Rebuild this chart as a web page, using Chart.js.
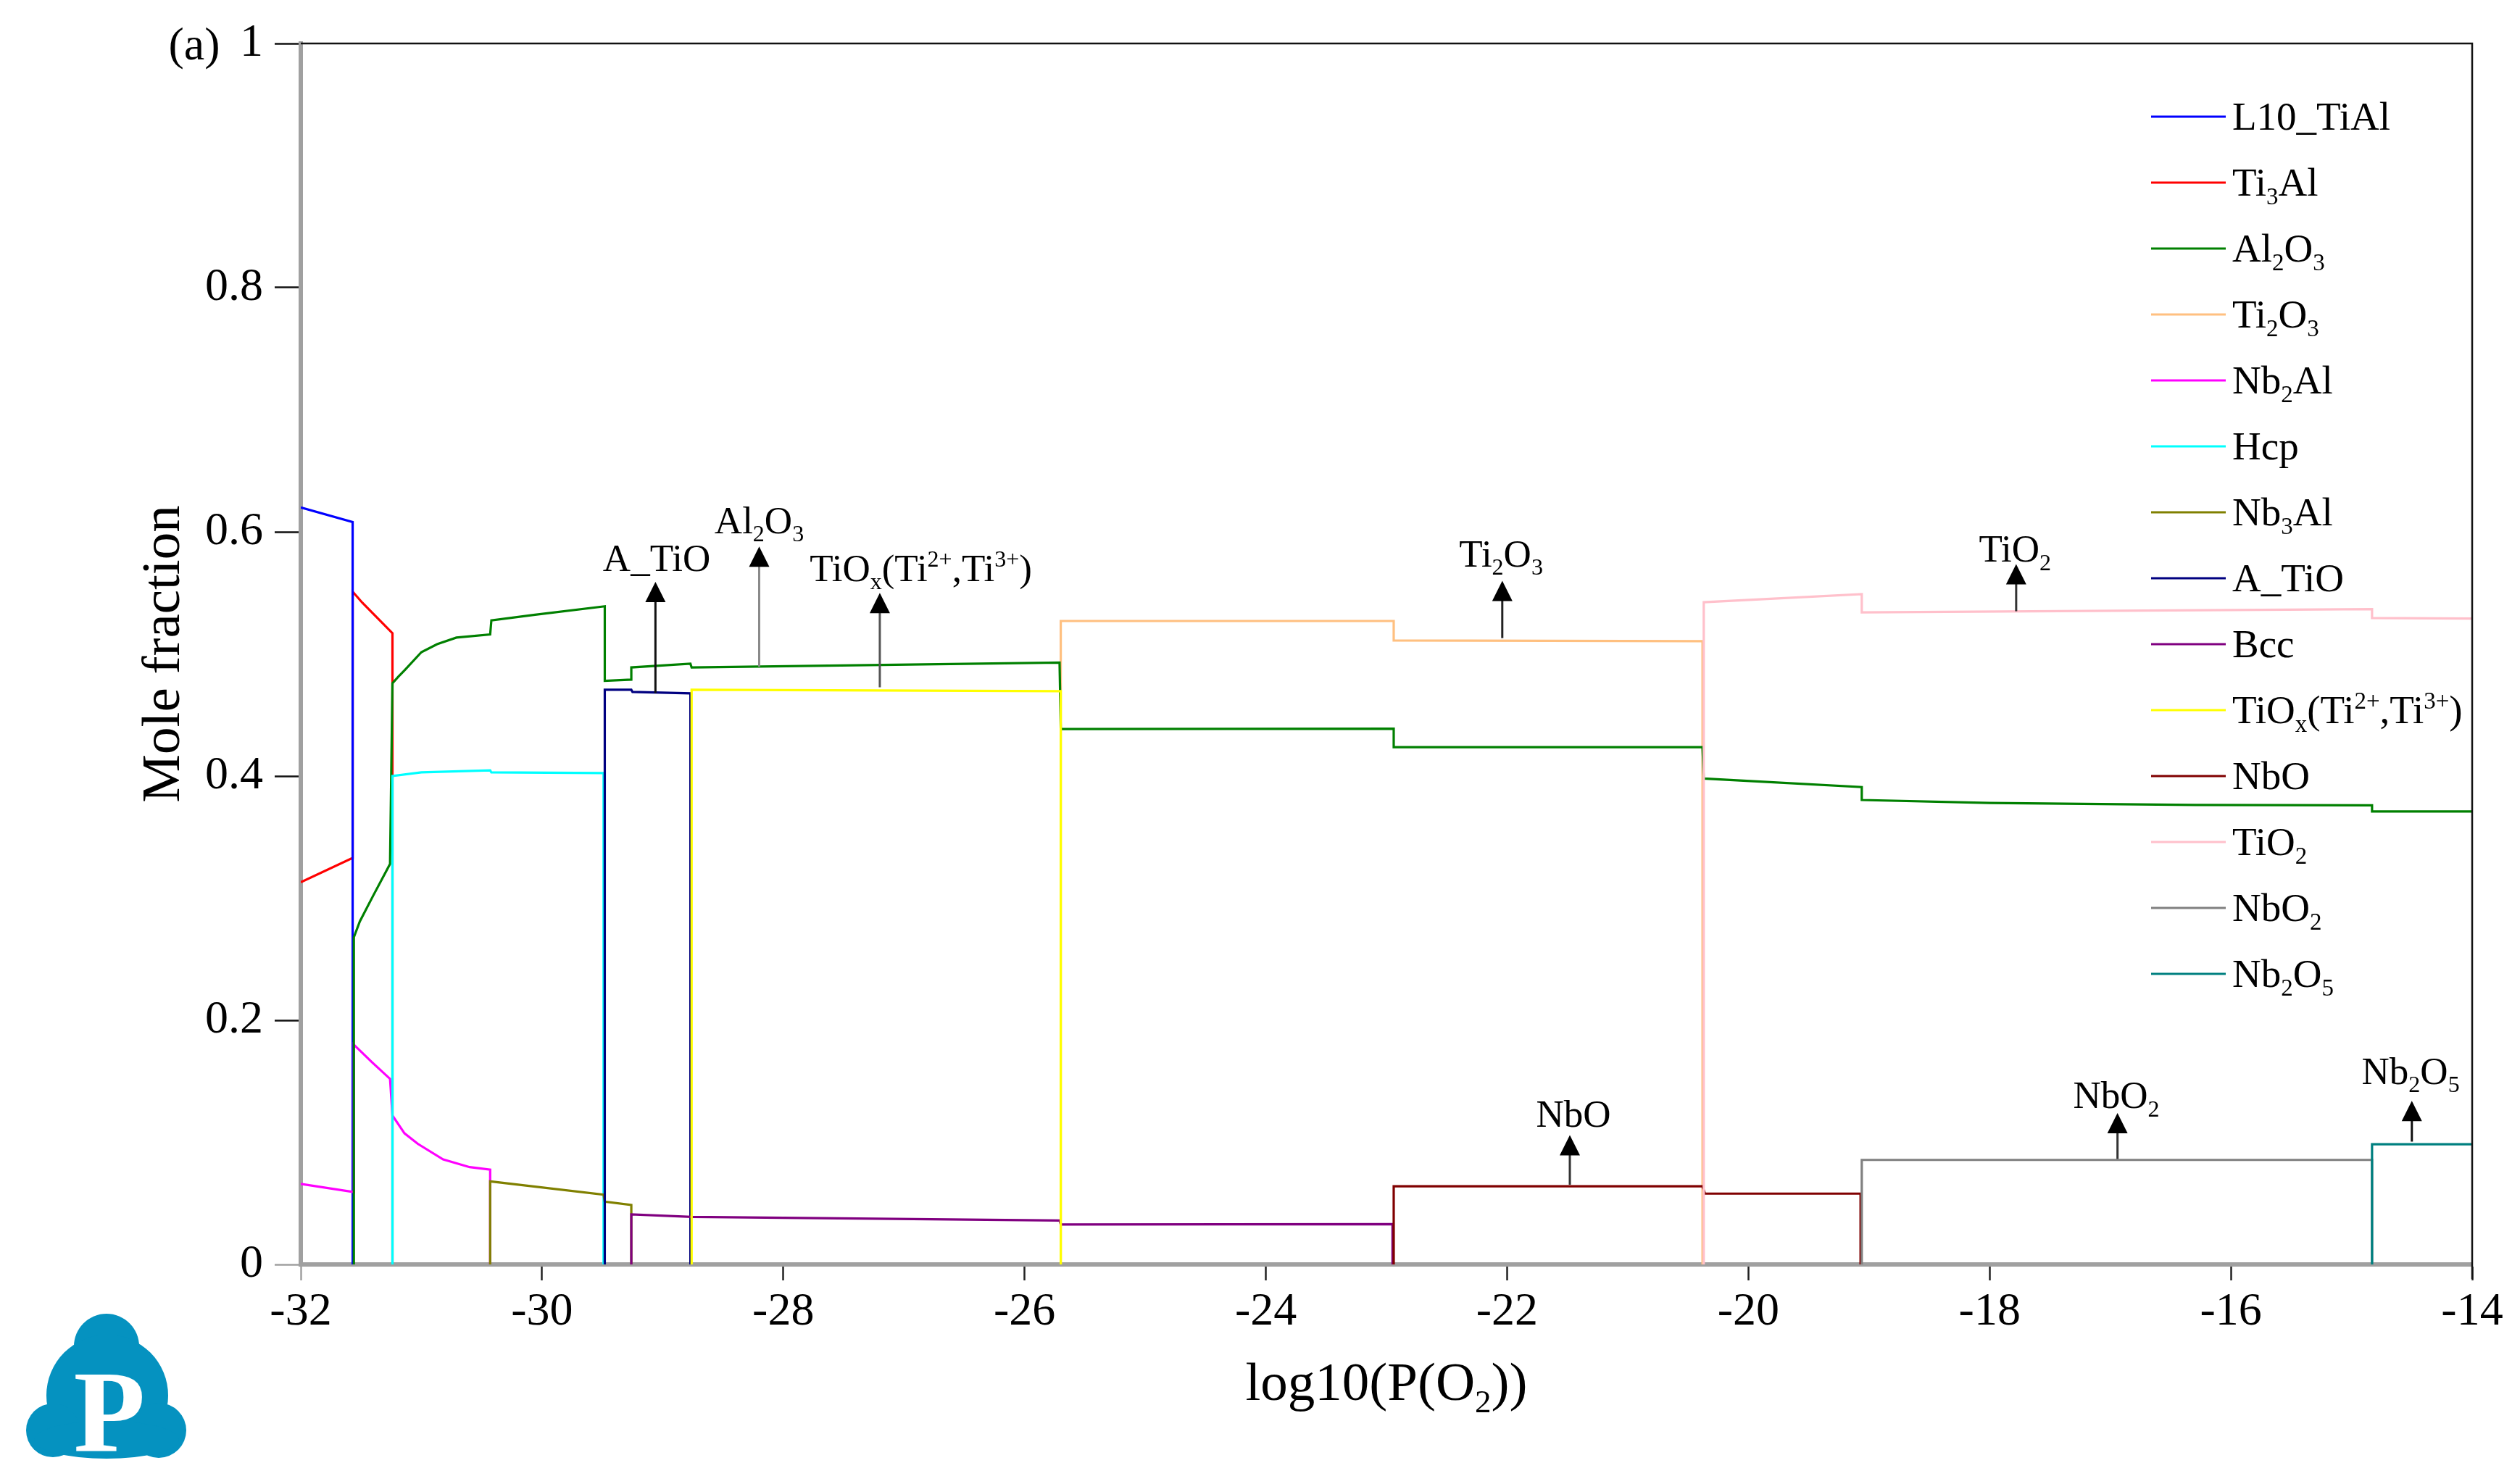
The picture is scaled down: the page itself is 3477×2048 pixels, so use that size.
<!DOCTYPE html>
<html lang="en">
<head>
<meta charset="UTF-8">
<title>Phase fractions vs log10(P(O2))</title>
<script src="https://cdn.jsdelivr.net/npm/chart.js"></script>
<style>
    html, body { margin: 0; padding: 0; background: #ffffff; }
    .wrap { position: relative; width: 3477px; height: 2048px; }
    .logo { position: absolute; left: 0; top: 1780px; width: 300px; height: 268px; }
</style>
</head>
<body>
<div class="wrap">
    <canvas id="phaseChart"></canvas>
    <svg class="logo" viewBox="0 0 300 268">
        <g fill="#0592c0">
            <circle cx="147" cy="78" r="45"/>
            <circle cx="148" cy="146" r="84"/>
            <circle cx="73" cy="194" r="37"/>
            <circle cx="219" cy="194" r="38"/>
            <ellipse cx="147" cy="207" rx="100" ry="26"/>
        </g>
        <text x="151" y="222" text-anchor="middle" fill="#fff"
              font-family="Liberation Serif" font-weight="bold" font-size="162">P</text>
    </svg>
</div>

<script>
    // phase names (legend order); _{..} = subscript, ^{..} = superscript
    const phaseNames = ['L10_TiAl', 'Ti_{3}Al', 'Al_{2}O_{3}', 'Ti_{2}O_{3}', 'Nb_{2}Al', 'Hcp', 'Nb_{3}Al',
        'A_TiO', 'Bcc', 'TiO_{x}(Ti^{2+},Ti^{3+})', 'NbO', 'TiO_{2}', 'NbO_{2}', 'Nb_{2}O_{5}'];
    const phaseColors = ['#0000ff', '#ff0000', '#008000', '#ffc080', '#ff00ff', '#00ffff', '#808000',
        '#000080', '#800080', '#ffff00', '#800000', '#ffc0cb', '#808080', '#008080'];
    // drawing order (smaller = drawn later, on top)
    const phaseOrder = [-1.5, -1, -4.5, -3, -4, -5, -6, -7, -8, -9, -10, -11, -12, -13];

    // [log10(P(O2)), mole fraction]
    const L10_TiAl = [[-32, 0.620], [-31.57, 0.608], [-31.57, 0]];
    const Ti3Al = [[-32, 0.313], [-31.57, 0.333], [-31.57, 0.551], [-31.49, 0.542], [-31.40, 0.533],
        [-31.24, 0.517], [-31.24, 0]];
    const Al2O3 = [[-31.56, 0], [-31.56, 0.268], [-31.51, 0.281], [-31.40, 0.302], [-31.26, 0.328],
        [-31.24, 0.476], [-31.19, 0.4815], [-31.14, 0.4866], [-31.00, 0.5015], [-30.87, 0.508],
        [-30.71, 0.5134], [-30.43, 0.516], [-30.42, 0.5275], [-30.07, 0.532], [-29.48, 0.539],
        [-29.48, 0.478], [-29.26, 0.479], [-29.26, 0.489], [-28.77, 0.492], [-28.76, 0.489],
        [-25.71, 0.493], [-25.70, 0.4385], [-22.94, 0.4388], [-22.94, 0.4237], [-20.38, 0.4237],
        [-20.37, 0.398], [-19.06, 0.391], [-19.06, 0.3804], [-18.0, 0.378], [-16.3, 0.3763],
        [-14.83, 0.376], [-14.83, 0.371], [-14, 0.371]];
    const Ti2O3 = [[-25.70, 0], [-25.70, 0.527], [-22.94, 0.527], [-22.94, 0.511], [-20.38, 0.5105],
        [-20.38, 0]];
    const Nb2Al = [[-32, 0.066], [-31.56, 0.0593], [-31.56, 0.180], [-31.41, 0.1657], [-31.26, 0.152],
        [-31.24, 0.122], [-31.14, 0.1074], [-31.03, 0.0988], [-30.82, 0.086], [-30.60, 0.0797],
        [-30.43, 0.0777], [-30.43, 0]];
    const Hcp = [[-31.24, 0], [-31.24, 0.400], [-31.00, 0.403], [-30.43, 0.4047], [-30.42, 0.403],
        [-29.49, 0.4025], [-29.49, 0]];
    const Nb3Al = [[-30.43, 0], [-30.43, 0.068], [-29.49, 0.0572], [-29.48, 0.0515], [-29.26, 0.0487],
        [-29.26, 0]];
    const A_TiO = [[-29.48, 0], [-29.48, 0.4707], [-29.26, 0.4707], [-29.25, 0.4689], [-28.77, 0.4677],
        [-28.77, 0]];
    const Bcc = [[-29.26, 0], [-29.26, 0.041], [-28.76, 0.039], [-25.71, 0.036], [-25.70, 0.0327],
        [-22.95, 0.033], [-22.95, 0]];
    const TiOx = [[-28.76, 0], [-28.76, 0.4707], [-25.70, 0.4695], [-25.70, 0]];
    const NbO = [[-22.94, 0], [-22.94, 0.064], [-20.38, 0.064], [-20.36, 0.058], [-19.07, 0.058],
        [-19.07, 0]];
    const TiO2 = [[-20.37, 0], [-20.37, 0.5424], [-19.06, 0.549], [-19.06, 0.534], [-14.83, 0.5367],
        [-14.83, 0.5294], [-14, 0.529]];
    const NbO2 = [[-19.06, 0], [-19.06, 0.0856], [-14.83, 0.0856], [-14.83, 0]];
    const Nb2O5 = [[-14.83, 0], [-14.83, 0.0985], [-14, 0.0985]];

    const phaseData = [L10_TiAl, Ti3Al, Al2O3, Ti2O3, Nb2Al, Hcp, Nb3Al, A_TiO, Bcc, TiOx, NbO, TiO2, NbO2, Nb2O5];

    // axis ranges / ticks
    const xMin = -32, xMax = -14, xStep = 2;
    const yMin = 0, yMax = 1, yStep = 0.2;

    // arrow annotations
    const annText = ['A_TiO', 'Al_{2}O_{3}', 'TiO_{x}(Ti^{2+},Ti^{3+})', 'Ti_{2}O_{3}', 'NbO', 'TiO_{2}', 'NbO_{2}', 'Nb_{2}O_{5}'];
    const annX = [-29.06, -28.20, -27.20, -22.04, -21.48, -17.78, -16.94, -14.50];
    const annFrom = [0.468, 0.4896, 0.4727, 0.513, 0.0653, 0.535, 0.0864, 0.1006];
    const annTo = [0.559, 0.588, 0.550, 0.560, 0.106, 0.5736, 0.124, 0.134];
    const annTextX = [-29.05, -28.20, -26.86, -22.05, -21.45, -17.79, -16.95, -14.51];
    const annTextY = [0.578, 0.609, 0.570, 0.5817, 0.123, 0.5857, 0.138, 0.158];
    const annShaft = ['#111', '#8a8a8a', '#555', '#222', '#333', '#333', '#333', '#111'];

    const SERIF = '"Liberation Serif", "Times New Roman", serif';

    // draws text with _{sub} and ^{sup} parts, y = baseline
    function drawRich(ctx, text, x, y, size, align) {
        const parts = [];
        let i = 0;
        const isMark = k => (text[k] === '_' || text[k] === '^') && text[k + 1] === '{';
        while (i < text.length) {
            if (isMark(i)) {
                const end = text.indexOf('}', i);
                parts.push({ t: text.slice(i + 2, end), k: text[i] });
                i = end + 1;
            } else {
                let j = i;
                while (j < text.length && !isMark(j)) j++;
                parts.push({ t: text.slice(i, j), k: '' });
                i = j;
            }
        }
        const fontFor = k => (k ? Math.round(size * 0.6) : size) + 'px ' + SERIF;
        let w = 0;
        parts.forEach(p => { ctx.font = fontFor(p.k); p.w = ctx.measureText(p.t).width; w += p.w; });
        let cx = align === 'center' ? x - w / 2 : (align === 'right' ? x - w : x);
        ctx.textAlign = 'left';
        ctx.textBaseline = 'alphabetic';
        parts.forEach(p => {
            ctx.font = fontFor(p.k);
            const dy = p.k === '_' ? size * 0.22 : (p.k === '^' ? -size * 0.36 : 0);
            ctx.fillText(p.t, cx, y + dy);
            cx += p.w;
        });
        return w;
    }

    const extrasPlugin = {
        id: 'extras',
        afterDraw(chart) {
            const ctx = chart.ctx;
            const xs = chart.scales.x, ys = chart.scales.y;
            const a = chart.chartArea;
            ctx.save();

            // top and right frame
            ctx.strokeStyle = '#111';
            ctx.lineWidth = 2.5;
            ctx.beginPath();
            ctx.moveTo(a.left, a.top);
            ctx.lineTo(a.right, a.top);
            ctx.lineTo(a.right, a.bottom + 20);
            ctx.stroke();

            // arrows + labels
            annX.forEach((v, i) => {
                const px = xs.getPixelForValue(v);
                const y0 = ys.getPixelForValue(annFrom[i]);
                const y1 = ys.getPixelForValue(annTo[i]);
                ctx.strokeStyle = annShaft[i];
                ctx.lineWidth = 3;
                ctx.beginPath();
                ctx.moveTo(px, y0);
                ctx.lineTo(px, y1 + 26);
                ctx.stroke();
                ctx.fillStyle = '#000';
                ctx.beginPath();
                ctx.moveTo(px, y1);
                ctx.lineTo(px - 14, y1 + 28);
                ctx.lineTo(px + 14, y1 + 28);
                ctx.closePath();
                ctx.fill();
                drawRich(ctx, annText[i], xs.getPixelForValue(annTextX[i]),
                    ys.getPixelForValue(annTextY[i]) + 17, 53, 'center');
            });

            // legend
            const lx0 = 2968, lx1 = 3071, ly0 = 161, dy = 91;
            phaseNames.forEach((name, i) => {
                const y = ly0 + i * dy;
                ctx.strokeStyle = phaseColors[i];
                ctx.lineWidth = 3;
                ctx.beginPath();
                ctx.moveTo(lx0, y);
                ctx.lineTo(lx1, y);
                ctx.stroke();
                ctx.fillStyle = '#000';
                drawRich(ctx, name, 3080, y + 18, 55, 'left');
            });

            // axis titles and panel label
            ctx.fillStyle = '#000';
            drawRich(ctx, 'log10(P(O_{2}))', (a.left + a.right) / 2, 1932, 75, 'center');
            ctx.save();
            ctx.translate(222, (a.top + a.bottom) / 2);
            ctx.rotate(-Math.PI / 2);
            drawRich(ctx, 'Mole fraction', 0, 25, 75, 'center');
            ctx.restore();
            drawRich(ctx, '(a)', 268, 82, 64, 'center');

            ctx.restore();
        }
    };

    const datasets = phaseData.map((pts, i) => ({
        label: phaseNames[i],
        data: pts.map(p => ({ x: p[0], y: p[1] })),
        borderColor: phaseColors[i],
        backgroundColor: phaseColors[i],
        borderWidth: 3.2,
        pointRadius: 0,
        showLine: true,
        fill: false,
        tension: 0,
        order: phaseOrder[i]
    }));

    new Chart(document.getElementById('phaseChart'), {
        type: 'scatter',
        data: { datasets: datasets },
        plugins: [extrasPlugin],
        options: {
            responsive: true,
            maintainAspectRatio: false,
            animation: false,
            devicePixelRatio: 1,
            layout: { padding: { left: 0, top: 60, right: 66, bottom: 0 } },
            plugins: {
                legend: { display: false },
                tooltip: { enabled: false }
            },
            scales: {
                x: {
                    type: 'linear',
                    min: xMin,
                    max: xMax,
                    afterFit: s => { s.height = 303; },
                    ticks: {
                        stepSize: xStep,
                        color: '#000',
                        font: { family: SERIF, size: 64 },
                        padding: 6,
                        maxRotation: 0,
                        autoSkip: false,
                        callback: v => String(v)
                    },
                    grid: {
                        drawOnChartArea: false,
                        drawTicks: true,
                        tickLength: 22,
                        tickWidth: 2.5,
                        tickColor: c => (c.tick && c.tick.value === xMin) ? '#a0a0a0' : '#222'
                    },
                    border: { color: '#a0a0a0', width: 6 }
                },
                y: {
                    min: yMin,
                    max: yMax,
                    afterFit: s => { s.width = 415; },
                    ticks: {
                        stepSize: yStep,
                        color: '#000',
                        font: { family: SERIF, size: 64 },
                        padding: 16,
                        callback: v => String(Math.round(v * 10) / 10)
                    },
                    grid: {
                        drawOnChartArea: false,
                        drawTicks: true,
                        tickLength: 36,
                        tickWidth: 2.5,
                        tickColor: c => (c.tick && c.tick.value === yMin) ? '#a0a0a0' : '#111'
                    },
                    border: { color: '#a0a0a0', width: 6 }
                }
            }
        }
    });
</script>
</body>
</html>
